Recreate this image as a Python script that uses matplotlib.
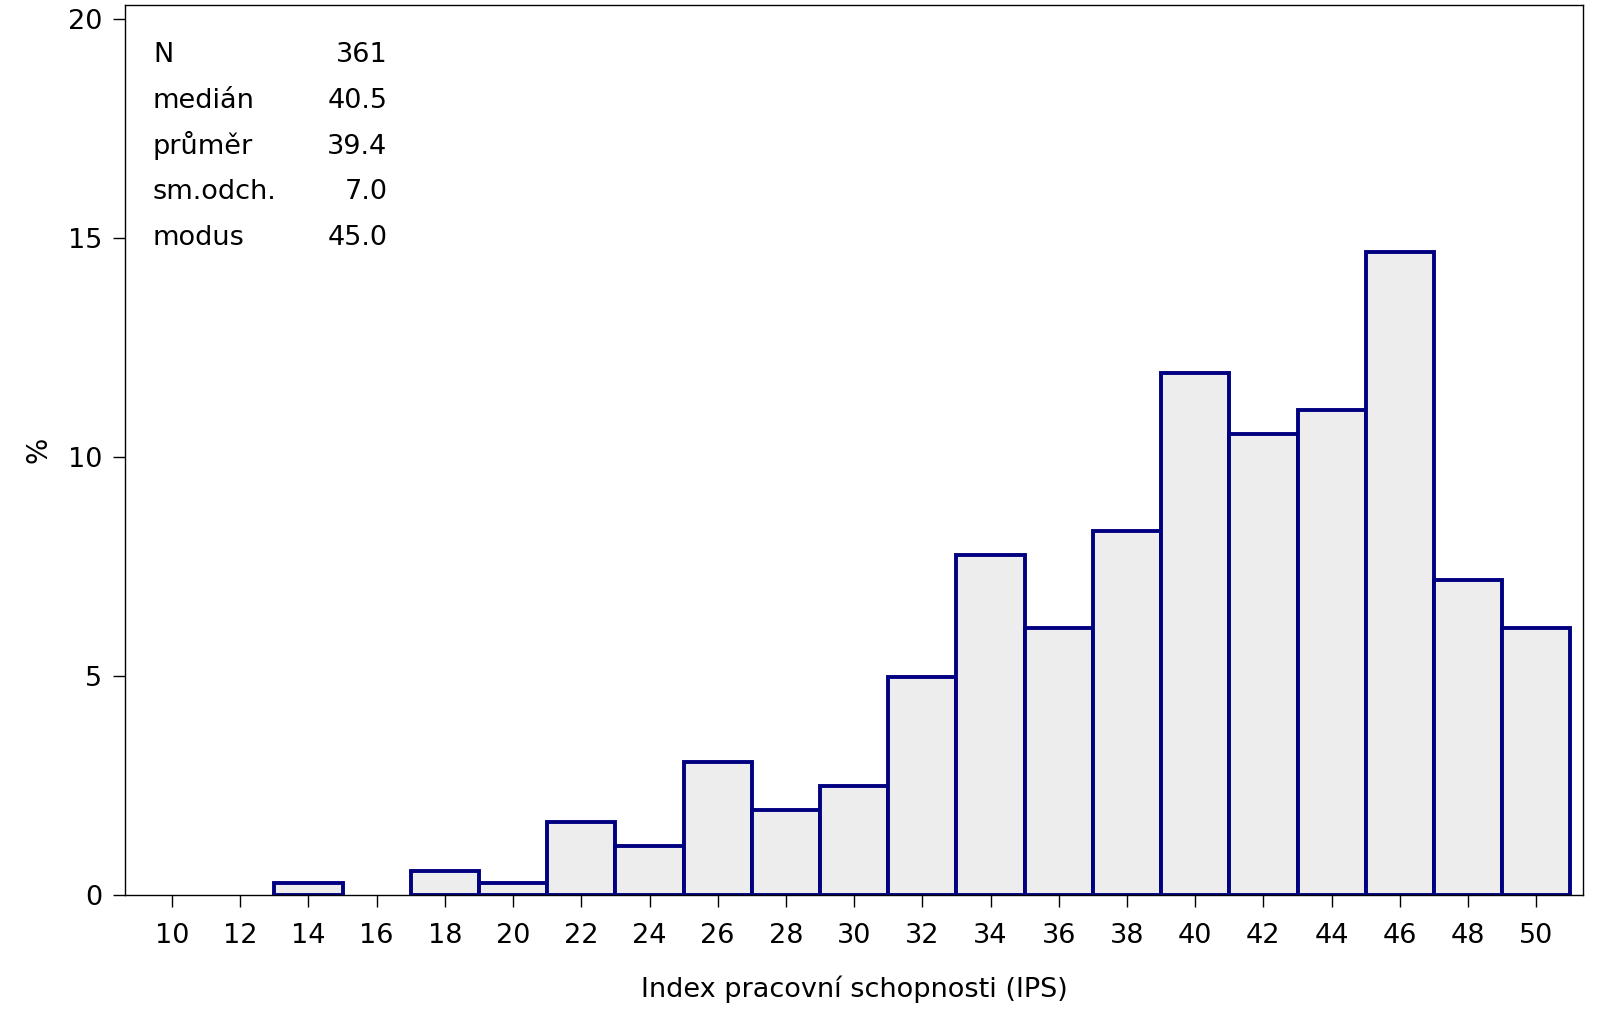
import matplotlib
matplotlib.use("Agg")
import matplotlib.pyplot as plt
import numpy as np

# histogram bins (centre of 2-point wide bin) and counts
bin_centres = [14, 16, 18, 20, 22, 24, 26, 28, 30, 32, 34, 36, 38, 40, 42, 44, 46, 48, 50]
counts = [1, 0, 2, 1, 6, 4, 11, 7, 9, 18, 28, 22, 30, 43, 38, 40, 53, 26, 22]
n_total = 361

stat_names = ['N', 'medián', 'průměr', 'sm.odch.', 'modus']
stat_values = ['361', '40.5', '39.4', '7.0', '45.0']

x_ticks = list(range(10, 51, 2))
y_ticks = [0, 5, 10, 15, 20]

plt.rcParams['font.family'] = ['DejaVu Sans']

fig = plt.figure(figsize=(16, 10.24), dpi=100)
ax = fig.add_axes([125 / 1600, 1 - 895 / 1024, 1458 / 1600, 890 / 1024])

centres = np.array(bin_centres)
pct = np.array(counts) / n_total * 100
mask = pct > 0
ax.bar(centres[mask], pct[mask], width=2, color='#ededed', edgecolor='#000080',
       linewidth=2.8, zorder=1)

ax.set_xlim(8.62, 51.37)
ax.set_ylim(0, 20.32)
ax.set_xticks(x_ticks)
ax.set_yticks(y_ticks)
ax.tick_params(axis='x', direction='out', length=8.5, width=1, labelsize=19.5, pad=11.5)
ax.tick_params(axis='y', direction='out', length=8.5, width=1, labelsize=19.5, pad=8)
for s in ax.spines.values():
    s.set_linewidth(1)
    s.set_zorder(3)

ax.set_xlabel('Index pracovní schopnosti (IPS)', fontsize=19.5, labelpad=19)
ax.set_ylabel('%', fontsize=20, labelpad=11)

for i, (name, val) in enumerate(zip(stat_names, stat_values)):
    yy = (895 - (62 + 45.8 * i)) / 890
    ax.text(0.0192, yy, name, transform=ax.transAxes, fontsize=19.5, va='baseline', ha='left')
    ax.text(0.180, yy, val, transform=ax.transAxes, fontsize=19.5, va='baseline', ha='right')

fig.savefig('out.png', dpi=100)
